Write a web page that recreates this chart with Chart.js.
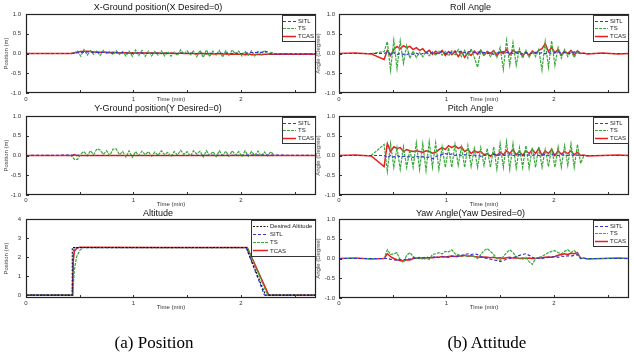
<!DOCTYPE html>
<html><head><meta charset="utf-8">
<script src="https://cdn.jsdelivr.net/npm/chart.js@4.4.0/dist/chart.umd.min.js"></script>
<style>
html,body{margin:0;padding:0;background:#fff;}
body{width:633px;height:360px;overflow:hidden;position:relative;font-family:'Liberation Sans',Arial,sans-serif;}
canvas{position:absolute;}
.cap{position:absolute;width:200px;text-align:center;font-family:'Liberation Serif','Times New Roman',serif;font-size:17px;line-height:20px;color:#000;}
</style></head>
<body>
<canvas id="cX" width="320" height="106" style="left:0px;top:0px;width:320px;height:106px"></canvas>
<canvas id="cR" width="321" height="106" style="left:312px;top:0px;width:321px;height:106px"></canvas>
<canvas id="cY" width="320" height="106" style="left:0px;top:102px;width:320px;height:106px"></canvas>
<canvas id="cP" width="321" height="106" style="left:312px;top:102px;width:321px;height:106px"></canvas>
<canvas id="cA" width="320" height="106" style="left:0px;top:205px;width:320px;height:106px"></canvas>
<canvas id="cW" width="321" height="106" style="left:312px;top:205px;width:321px;height:106px"></canvas>
<div class="cap" style="left:54px;top:333px">(a) Position</div>
<div class="cap" style="left:387px;top:333px">(b) Attitude</div>
<script>
// ---------- data ----------
const T = [
  0, 0.15, 0.3, 0.42, 0.45, 0.48, 0.51, 0.54, 0.57, 0.60,
  0.63, 0.66, 0.69, 0.72, 0.75, 0.78, 0.81, 0.84, 0.87, 0.90,
  0.93, 0.96, 0.99, 1.02, 1.05, 1.08, 1.11, 1.14, 1.17, 1.20,
  1.23, 1.26, 1.29, 1.32, 1.35, 1.38, 1.41, 1.44, 1.47, 1.50,
  1.53, 1.56, 1.59, 1.62, 1.65, 1.68, 1.71, 1.74, 1.77, 1.80,
  1.83, 1.86, 1.89, 1.92, 1.95, 1.98, 2.01, 2.04, 2.07, 2.10,
  2.13, 2.16, 2.19, 2.22, 2.25, 2.28, 2.31, 2.45, 2.6, 2.7];

const X_SITL = [
  0, 0, 0, 0, 0.01, 0.02, 0.03, 0.03, 0.04, 0.04,
  0.03, 0.03, 0.02, 0.03, 0.02, 0.02, 0.01, 0.02, 0.01, 0.02,
  0.01, 0.01, 0.0, 0.01, 0.02, 0.01, 0.01, 0.0, 0.01, 0.0,
  0.01, 0.0, 0.01, 0.0, 0.0, 0.01, 0.0, 0.01, 0.0, 0.0,
  0.01, 0.0, 0.0, 0.01, 0.0, 0.0, 0.01, 0.0, 0.0, 0.01,
  0.0, 0.01, 0.0, 0.0, 0.01, 0.0, 0.0, 0.01, 0.01, 0.02,
  0.02, 0.03, 0.03, 0.05, 0.04, -0.01, -0.01, -0.01, -0.01, -0.01];
const X_TS = [
  0, 0, 0, 0, 0.0, 0.06, -0.07, 0.1, -0.04, 0.07,
  -0.02, 0.06, -0.05, 0.08, 0.0, 0.05, -0.03, 0.07, -0.02, 0.05,
  -0.06, 0.06, -0.07, 0.09, -0.05, 0.08, -0.07, 0.06, -0.06, 0.05,
  -0.04, 0.07, -0.06, 0.05, -0.07, 0.04, -0.05, 0.09, -0.02, 0.07,
  -0.03, 0.06, -0.08, 0.08, -0.1, 0.09, -0.08, 0.06, -0.04, 0.08,
  -0.09, 0.07, -0.05, 0.09, -0.02, 0.06, -0.06, 0.05, -0.04, 0.07,
  -0.06, 0.05, -0.03, 0.08, -0.02, 0.03, 0, 0, 0, 0];
const X_TCAS = [
  0, 0, 0, 0, 0.02, 0.04, 0.05, 0.06, 0.06, 0.05,
  0.04, 0.04, 0.03, 0.03, 0.03, 0.02, 0.03, 0.02, 0.02, 0.02,
  0.02, 0.01, 0.02, 0.01, 0.01, 0.02, 0.01, 0.01, 0.01, 0.01,
  0.01, 0.0, 0.01, 0.0, 0.01, 0.0, 0.0, 0.01, 0.0, 0.0,
  0.0, 0.0, -0.01, 0.0, 0.0, -0.01, 0.0, -0.01, -0.01, 0.0,
  -0.01, -0.01, -0.02, -0.01, -0.02, -0.02, -0.02, -0.03, -0.02, -0.03,
  -0.03, -0.02, -0.03, -0.02, -0.02, -0.02, -0.02, -0.02, -0.02, -0.02];

const Y_SITL_T = [0, 0.45, 0.5, 1.5, 2.28, 2.7];
const Y_SITL = [0, 0.01, 0.0, 0.0, 0.01, 0];
const Y_TS = [
  0, 0, 0, 0, -0.1, -0.1, 0.04, 0.1, -0.01, 0.12,
  0.02, 0.17, 0.14, 0.03, 0.12, 0.0, 0.16, 0.17, 0.02, 0.1,
  -0.04, 0.12, -0.05, 0.1, 0.0, 0.11, 0.02, 0.1, -0.02, 0.09,
  0.0, 0.12, 0.02, 0.08, -0.03, 0.1, 0.01, 0.13, 0.03, 0.1,
  -0.02, 0.12, 0.04, 0.11, -0.04, 0.12, 0.0, 0.1, -0.03, 0.12,
  0.0, 0.11, -0.02, 0.12, 0.01, 0.1, -0.03, 0.12, -0.02, 0.1,
  0.0, 0.11, -0.02, 0.09, -0.01, 0.1, 0, 0, 0, 0];
const Y_TCAS_T = [0, 0.44, 0.45, 0.47, 2.7];
const Y_TCAS = [0, 0, 0.02, 0, 0];

const ALT_DES_T = [0, 0.43, 0.431, 2.05, 2.23, 2.7];
const ALT_DES = [0, 0, 2.5, 2.5, 0, 0];
const ALT_SITL_T = [0, 0.43, 0.44, 0.45, 2.05, 2.22, 2.7];
const ALT_SITL = [0, 0, 2.2, 2.5, 2.5, 0, 0];
const ALT_TS_T = [0, 0.435, 0.45, 0.47, 0.5, 0.53, 2.06, 2.25, 2.7];
const ALT_TS = [0, 0, 1.3, 2.0, 2.35, 2.5, 2.5, 0, 0];
const ALT_TCAS_T = [0, 0.435, 0.44, 0.45, 0.47, 0.5, 1.3, 2.06, 2.26, 2.7];
const ALT_TCAS = [0, 0, 1.8, 2.3, 2.45, 2.52, 2.5, 2.5, 0, 0];

const ROLL_SITL = [
  0, 0, 0, 0, 0.04, -0.02, 0.02, -0.03, 0.0, -0.02,
  -0.03, 0.0, -0.02, 0.01, -0.03, 0.0, 0.02, -0.01, 0.03, 0.0,
  0.02, 0.04, 0.0, 0.03, 0.02, 0.05, 0.03, 0.06, 0.02, 0.04,
  0.05, 0.02, 0.04, 0.01, 0.03, 0.0, 0.02, -0.02, 0.01, 0.03,
  0.05, 0.02, 0.04, 0.0, 0.02, -0.02, 0.0, 0.02, -0.01, 0.01,
  0.03, 0.0, 0.02, -0.01, 0.03, 0.0, 0.02, 0.04, 0.01, 0.03,
  0.0, 0.02, 0.04, 0.02, 0, 0, 0, 0, 0, 0];
const ROLL_TS = [
  0, 0, 0, 0.05, 0.3, -0.42, 0.33, -0.38, 0.32, -0.25,
  0.2, -0.12, 0.06, -0.1, 0.02, -0.08, 0.05, -0.06, 0.04, -0.05,
  0.06, -0.04, 0.05, -0.06, 0.07, -0.05, 0.1, -0.08, 0.08, -0.12,
  0.12, -0.1, -0.35, 0.08, -0.06, 0.05, -0.08, 0.06, -0.1, 0.15,
  -0.4, 0.33, -0.3, 0.28, -0.3, 0.12, -0.12, 0.08, -0.1, 0.06,
  -0.08, 0.1, -0.42, 0.3, -0.35, 0.32, -0.3, 0.15, -0.12, 0.1,
  -0.08, 0.06, -0.1, 0.05, 0, 0, 0, 0, 0, 0];
const ROLL_TCAS = [
  0, 0.01, -0.01, -0.15, 0.08, -0.05, 0.1, 0.18, 0.12, 0.2,
  0.15, 0.18, 0.1, 0.15, 0.08, 0.12, 0.02, 0.08, -0.02, 0.06,
  0.0, 0.08, -0.05, 0.05, -0.03, 0.06, -0.08, 0.04, -0.1, 0.02,
  -0.05, 0.06, -0.02, 0.08, -0.04, 0.05, 0.0, 0.07, -0.05, 0.04,
  0.0, 0.1, -0.03, 0.08, 0.02, 0.06, -0.06, 0.04, -0.05, 0.06,
  0.0, 0.08, 0.12, 0.25, 0.05, 0.15, 0.02, 0.1, -0.04, 0.06,
  0.0, 0.08, -0.03, 0.07, 0.0, 0.01, -0.01, 0.01, -0.01, 0.0];

const PITCH_SITL = [
  0, 0, 0, 0, -0.05, 0.0, -0.04, 0.0, -0.03, -0.02,
  -0.04, -0.03, -0.05, -0.02, -0.04, -0.03, -0.05, -0.04, -0.08, -0.03,
  0.0, 0.03, 0.05, 0.02, 0.04, 0.0, 0.03, 0.0, 0.02, 0.0,
  0.0, 0.01, 0.0, -0.02, 0.0, 0.01, 0.0, 0.03, 0.0, 0.02,
  0.01, 0.0, 0.02, 0.0, 0.01, 0.02, 0.0, 0.02, 0.01, 0.0,
  0.02, 0.0, 0.01, 0.03, 0.0, 0.02, 0.01, 0.0, 0.02, 0.01,
  0.0, 0.02, 0.0, 0.01, 0, 0, 0, 0, 0, 0];
const PITCH_TS = [
  0, 0, 0, 0.28, -0.4, 0.3, -0.3, 0.2, -0.35, 0.22,
  -0.3, 0.15, -0.3, 0.32, -0.35, 0.3, -0.38, 0.35, -0.3, 0.32,
  -0.35, 0.22, -0.3, 0.2, -0.3, 0.28, -0.25, 0.22, -0.3, 0.25,
  -0.28, 0.18, -0.3, 0.2, -0.25, 0.18, -0.3, 0.22, -0.35, 0.3,
  -0.3, 0.35, -0.35, 0.3, -0.32, 0.2, -0.3, 0.25, -0.32, 0.2,
  -0.3, 0.22, -0.3, 0.15, -0.28, 0.2, -0.3, 0.22, -0.3, 0.25,
  -0.25, 0.3, -0.3, 0.28, -0.2, 0, 0, 0, 0, 0];
const PITCH_TCAS = [
  0, 0.01, -0.01, -0.28, 0.3, 0.1, 0.22, 0.18, 0.2, 0.1,
  0.15, 0.12, 0.1, 0.12, 0.1, 0.08, 0.12, 0.1, 0.06, 0.08,
  0.15, 0.2, 0.15, 0.25, 0.2, 0.25, 0.18, 0.22, 0.1, 0.15,
  0.05, 0.12, 0.08, 0.1, 0.02, 0.05, -0.02, 0.05, 0.0, 0.08,
  0.02, 0.12, 0.05, 0.15, 0.02, 0.1, 0.0, 0.12, 0.05, 0.15,
  0.05, 0.18, 0.0, 0.12, 0.05, 0.15, 0.0, 0.12, 0.03, 0.1,
  0.05, 0.12, 0.02, 0.08, 0.0, 0.01, -0.01, 0.0, 0.01, 0.0];

const YAW_SITL = [
  0, 0, 0, 0, 0.0, -0.02, -0.03, -0.05, -0.02, -0.04,
  0.0, -0.02, 0.02, 0.0, 0.03, 0.01, 0.04, 0.02, 0.03, 0.05,
  0.02, 0.04, 0.05, 0.03, 0.06, 0.04, 0.05, 0.08, 0.1, 0.12,
  0.1, 0.12, 0.1, 0.05, 0.02, 0.0, -0.02, -0.04, -0.05, -0.08,
  -0.05, -0.02, 0.0, 0.02, 0.05, 0.08, 0.1, 0.12, 0.08, 0.03,
  0.0, 0.01, 0.0, 0.02, 0.03, 0.04, 0.05, 0.03, 0.06, 0.05,
  0.07, 0.06, 0.08, 0.1, 0.0, 0, 0, 0, 0, 0];
const YAW_TS = [
  0, 0, 0, 0, 0.22, 0.1, 0.12, 0.15, -0.05, -0.1,
  0.08, 0.15, 0.05, 0.0, 0.02, -0.02, 0.0, -0.02, 0.1, 0.12,
  0.15, 0.12, 0.18, 0.17, 0.22, 0.12, 0.1, 0.06, 0.08, 0.05,
  0.07, 0.05, 0.0, 0.1, 0.2, 0.25, 0.18, 0.1, 0.0, -0.05,
  0.05, 0.15, 0.22, 0.15, 0.05, 0.0, -0.02, 0.03, -0.08, -0.15,
  0.0, 0.03, 0.05, 0.1, 0.15, 0.18, 0.2, 0.15, 0.12, 0.18,
  0.22, 0.15, 0.2, 0.12, 0.0, 0, 0, 0, 0, 0];
const YAW_TCAS = [
  0, 0.01, -0.01, 0, 0.12, 0.05, 0.0, -0.03, -0.05, -0.06,
  -0.03, -0.04, 0.0, 0.01, 0.0, 0.02, 0.01, 0.02, 0.02, 0.03,
  0.03, 0.05, 0.04, 0.05, 0.06, 0.05, 0.07, 0.06, 0.08, 0.06,
  0.07, 0.05, 0.04, 0.03, 0.04, 0.03, 0.02, 0.03, 0.01, 0.02,
  0.0, 0.02, 0.03, 0.01, 0.02, 0.0, 0.01, 0.0, 0.01, 0.0,
  0.0, 0.01, 0.02, 0.03, 0.04, 0.03, 0.05, 0.08, 0.1, 0.12,
  0.1, 0.13, 0.12, 0.15, 0.0, 0.01, -0.01, 0.0, 0.01, 0.0];

const X_TICKS = [0, 0.5, 1, 1.5, 2, 2.5];
const X_TICK_LABELS = ['0', '', '1', '', '2', ''];
const ANG_TICKS = [-1, -0.5, 0, 0.5, 1];
const ANG_TICK_LABELS = ['-1.0', '-0.5', '0.0', '0.5', '1.0'];
const ALT_TICKS = [0, 1, 2, 3, 4];
const ALT_TICK_LABELS = ['0', '1', '2', '3', '4'];

// ---------- styles ----------
const FONT = "'Liberation Sans', Arial, sans-serif";
Chart.defaults.font.family = FONT;
const ST = {
  SITL: {c: '#3434d8', w: 1.2, d: [3, 2]},
  TS:   {c: '#38a838', w: 1.2, d: [3, 1]},
  TCAS: {c: '#e42020', w: 1.5, d: []},
  DES:  {c: '#111111', w: 1.1, d: [2, 1.5]}
};

const framePlugin = {
  id: 'frameLegend',
  afterDatasetsDraw(chart, args, opts) {
    const {ctx, chartArea: a} = chart;
    const xs = chart.scales.x, ys = chart.scales.y;
    ctx.save();
    ctx.setLineDash([]);
    ctx.strokeStyle = '#333'; ctx.lineWidth = 1;
    ctx.beginPath();
    xs.ticks.forEach(t => { const p = Math.round(xs.getPixelForValue(t.value)) + 0.5; ctx.moveTo(p, a.bottom); ctx.lineTo(p, a.bottom - 3); });
    ys.ticks.forEach(t => { const p = Math.round(ys.getPixelForValue(t.value)) + 0.5; ctx.moveTo(a.left, p); ctx.lineTo(a.left + 3, p); });
    ctx.stroke();
    ctx.strokeStyle = '#222'; ctx.lineWidth = 1.2;
    ctx.strokeRect(Math.round(a.left) + 0.5, Math.round(a.top) + 0.5, Math.round(a.right - a.left) - 1, Math.round(a.bottom - a.top) - 1);
    // boxed legend inside the plot
    const ds = chart.data.datasets;
    const bw = opts.w, rh = opts.rowH, n = ds.length;
    const bh = 11 + (n - 1) * rh;
    const bx = Math.round(a.right) - 1 - bw, by = Math.round(a.top) + 1;
    ctx.fillStyle = '#fff';
    ctx.fillRect(bx, by, bw, bh);
    ctx.strokeStyle = '#333'; ctx.lineWidth = 1;
    ctx.strokeRect(bx + 0.5, by + 0.5, bw, bh);
    ctx.font = '6px ' + FONT;
    ctx.textBaseline = 'middle'; ctx.textAlign = 'left';
    ds.forEach((d, i) => {
      const y = by + 5.5 + i * rh;
      ctx.strokeStyle = d.borderColor; ctx.lineWidth = d.borderWidth;
      ctx.setLineDash(d.borderDash || []);
      ctx.beginPath(); ctx.moveTo(bx + opts.s0, Math.round(y) + 0.5); ctx.lineTo(bx + opts.s0 + opts.sl, Math.round(y) + 0.5); ctx.stroke();
      ctx.setLineDash([]);
      ctx.fillStyle = '#222';
      ctx.fillText(d.label, bx + opts.s0 + opts.sl + 2, y + 0.5);
    });
    ctx.restore();
  }
};

function mk(id, o) {
  const ds = o.series.map(s => ({
    label: s.label,
    data: s.t.map((t, i) => ({x: t, y: s.v[i]})),
    borderColor: ST[s.st].c, borderWidth: ST[s.st].w, borderDash: ST[s.st].d,
    pointRadius: 0, tension: 0, fill: false
  }));
  return new Chart(document.getElementById(id), {
    type: 'line',
    data: {datasets: ds},
    options: {
      responsive: false, animation: false, devicePixelRatio: 1,
      layout: {padding: {left: 0, right: 4, top: 0, bottom: 0}},
      plugins: {
        legend: {display: false}, tooltip: {enabled: false},
        title: {display: true, text: o.title, color: '#111', font: {family: FONT, size: 9, weight: 'normal'}, padding: o.titlePad},
        frameLegend: o.legend
      },
      scales: {
        x: {
          type: 'linear', min: 0, max: 2.7,
          afterBuildTicks: s => { s.ticks = X_TICKS.map(v => ({value: v})); },
          afterFit: s => { s.height = 13; },
          ticks: {callback: (v, i) => X_TICK_LABELS[X_TICKS.indexOf(v)] ?? '', font: {family: FONT, size: 6}, color: '#333', padding: o.xTickPad, maxRotation: 0, autoSkip: false},
          grid: {display: false, drawTicks: false}, border: {display: false},
          title: {display: true, text: 'Time (min)', color: '#333', font: {family: FONT, size: 6}, padding: {top: 0, bottom: o.xTitlePad}}
        },
        y: {
          type: 'linear', min: o.ymin, max: o.ymax,
          afterBuildTicks: s => { s.ticks = o.yticks.map(v => ({value: v})); },
          afterFit: s => { s.width = o.yw; },
          ticks: {callback: v => o.ylabels[o.yticks.indexOf(v)] ?? '', font: {family: FONT, size: 6}, color: '#333', padding: o.yTickPad, autoSkip: false},
          grid: {display: false, drawTicks: false}, border: {display: false},
          title: {display: true, text: o.ylabel, color: '#444', font: {family: FONT, size: 6}, padding: {top: 2.4, bottom: 0}}
        }
      }
    },
    plugins: [framePlugin]
  });
}

const L3 = {w: 33, rowH: 7.5, s0: 1, sl: 13};
const R3 = {w: 35, rowH: 7.5, s0: 2, sl: 13};
const three = (s, ts, tc, tS, tT, tC) => [
  {label: 'SITL', st: 'SITL', t: tS || T, v: s},
  {label: 'TS', st: 'TS', t: tT || T, v: ts},
  {label: 'TCAS', st: 'TCAS', t: tC || T, v: tc}
];
const LEFT = {yw: 26, yTickPad: 5};
const RIGHT = {yw: 27, yTickPad: 4};

mk('cX', Object.assign({}, LEFT, {title: 'X-Ground position(X Desired=0)', ylabel: 'Position (m)', ymin: -1, ymax: 1, yticks: ANG_TICKS, ylabels: ANG_TICK_LABELS,
  titlePad: {top: 2.1, bottom: 1.1}, xTickPad: 2.5, xTitlePad: 3.4, legend: L3, series: three(X_SITL, X_TS, X_TCAS)}));
mk('cR', Object.assign({}, RIGHT, {title: 'Roll Angle', ylabel: 'Angle (Degree)', ymin: -1, ymax: 1, yticks: ANG_TICKS, ylabels: ANG_TICK_LABELS,
  titlePad: {top: 2.1, bottom: 1.1}, xTickPad: 2.5, xTitlePad: 3.4, legend: R3, series: three(ROLL_SITL, ROLL_TS, ROLL_TCAS)}));
mk('cY', Object.assign({}, LEFT, {title: 'Y-Ground position(Y Desired=0)', ylabel: 'Position (m)', ymin: -1, ymax: 1, yticks: ANG_TICKS, ylabels: ANG_TICK_LABELS,
  titlePad: {top: 1.6, bottom: 1.6}, xTickPad: 1.5, xTitlePad: 0.4, legend: L3, series: three(Y_SITL, Y_TS, Y_TCAS, Y_SITL_T, null, Y_TCAS_T)}));
mk('cP', Object.assign({}, RIGHT, {title: 'Pitch Angle', ylabel: 'Angle (Degree)', ymin: -1, ymax: 1, yticks: ANG_TICKS, ylabels: ANG_TICK_LABELS,
  titlePad: {top: 1.6, bottom: 1.6}, xTickPad: 1.5, xTitlePad: 0.4, legend: R3, series: three(PITCH_SITL, PITCH_TS, PITCH_TCAS)}));
mk('cA', Object.assign({}, LEFT, {title: 'Altitude', ylabel: 'Position (m)', ymin: -0.15, ymax: 4, yticks: ALT_TICKS, ylabels: ALT_TICK_LABELS,
  titlePad: {top: 3.6, bottom: -0.4}, xTickPad: 1.5, xTitlePad: 0.4, legend: {w: 64, rowH: 8.33, s0: 2, sl: 15},
  series: [{label: 'Desired Altitude', st: 'DES', t: ALT_DES_T, v: ALT_DES}].concat(three(ALT_SITL, ALT_TS, ALT_TCAS, ALT_SITL_T, ALT_TS_T, ALT_TCAS_T))}));
mk('cW', Object.assign({}, RIGHT, {title: 'Yaw Angle(Yaw Desired=0)', ylabel: 'Angle (Degree)', ymin: -1, ymax: 1, yticks: ANG_TICKS, ylabels: ANG_TICK_LABELS,
  titlePad: {top: 3.6, bottom: -0.4}, xTickPad: 1.5, xTitlePad: 0.4, legend: R3, series: three(YAW_SITL, YAW_TS, YAW_TCAS)}));
</script>
</body></html>
